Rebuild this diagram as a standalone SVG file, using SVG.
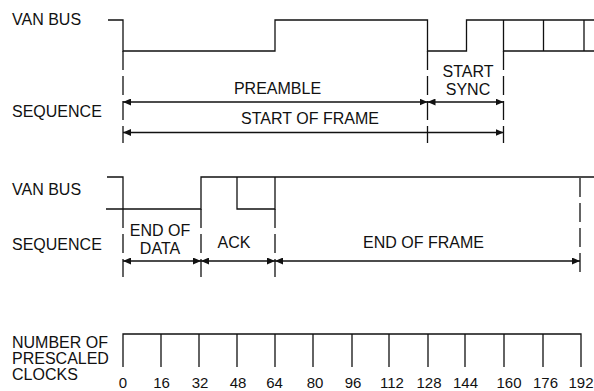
<svg xmlns="http://www.w3.org/2000/svg" width="594" height="391" viewBox="0 0 594 391">
<style>
text{font-family:"Liberation Sans",Arial,sans-serif;font-size:16px;fill:#111}
.m{text-anchor:middle}
.n{font-size:15px;text-anchor:middle}
.w{fill:none;stroke:#111;stroke-width:1.3}
.d{fill:none;stroke:#111;stroke-width:1.3;stroke-dasharray:19 6}
.a{fill:none;stroke:#111;stroke-width:1.3;marker-start:url(#ah);marker-end:url(#ah)}
</style>
<defs>
<marker id="ah" viewBox="0 0 8 7" refX="8" refY="3.5" markerWidth="8" markerHeight="7" markerUnits="userSpaceOnUse" orient="auto-start-reverse">
<path d="M0,0 L8,3.5 L0,7 z" fill="#111"/>
</marker>
</defs>
<g id="labels">
<text x="12" y="25">VAN BUS</text>
<text x="12" y="117">SEQUENCE</text>
<text x="12" y="195">VAN BUS</text>
<text x="12" y="250">SEQUENCE</text>
<text x="12" y="348">NUMBER OF</text>
<text x="12" y="364">PRESCALED</text>
<text x="12" y="380">CLOCKS</text>
</g>
<g id="waveform-top">
<path class="w" d="M108,20 H123 V51 H275 V20 H427.5 V51 H466.5 V20 H594"/>
<path class="w" d="M503.5,20 V51 H594 M543.5,20 V51 M584,20 V51"/>
</g>
<g id="waveform-bottom">
<path class="w" d="M107,177 H123 V209 M106,209 H201 V177 H594 M237,177 V209 H275 V177"/>
</g>
<g id="connectors">
<path class="d" d="M123,51 V143 M427.5,51 V143 M503.5,51 V143"/>
<path class="d" d="M123,209 V277 M201,209 V277 M275,209 V277 M580,178 V277"/>
<line class="a" x1="123" y1="102" x2="427.5" y2="102"/>
<line class="a" x1="427.5" y1="102" x2="503.5" y2="102"/>
<line class="a" x1="123" y1="132.5" x2="503.5" y2="132.5"/>
<line class="a" x1="123" y1="261" x2="201" y2="261"/>
<line class="a" x1="201" y1="261" x2="275" y2="261"/>
<line class="a" x1="275" y1="261" x2="580" y2="261"/>
</g>
<g id="seq-labels">
<text class="m" x="277.5" y="94">PREAMBLE</text>
<text class="m" x="468" y="77">START</text>
<text class="m" x="468" y="95">SYNC</text>
<text class="m" x="310" y="124">START OF FRAME</text>
<text class="m" x="160" y="236">END OF</text>
<text class="m" x="160" y="254">DATA</text>
<text class="m" x="234" y="248">ACK</text>
<text class="m" x="423.5" y="248">END OF FRAME</text>
</g>
<g id="scale">
<path class="w" d="M123,367 V334 H581 V367 M161,334 V367 M199,334 V367 M237,334 V367 M275,334 V367 M313,334 V367 M352,334 V367 M389,334 V367 M428,334 V367 M465,334 V367 M504,334 V367 M543,334 V367"/>
<text class="n" x="123" y="388">0</text>
<text class="n" x="161.5" y="388">16</text>
<text class="n" x="200" y="388">32</text>
<text class="n" x="238" y="388">48</text>
<text class="n" x="274.5" y="388">64</text>
<text class="n" x="315" y="388">80</text>
<text class="n" x="353" y="388">96</text>
<text class="n" x="392" y="388">112</text>
<text class="n" x="429" y="388">128</text>
<text class="n" x="465.5" y="388">144</text>
<text class="n" x="509" y="388">160</text>
<text class="n" x="545.5" y="388">176</text>
<text class="n" x="581" y="388">192</text>
</g>
</svg>
